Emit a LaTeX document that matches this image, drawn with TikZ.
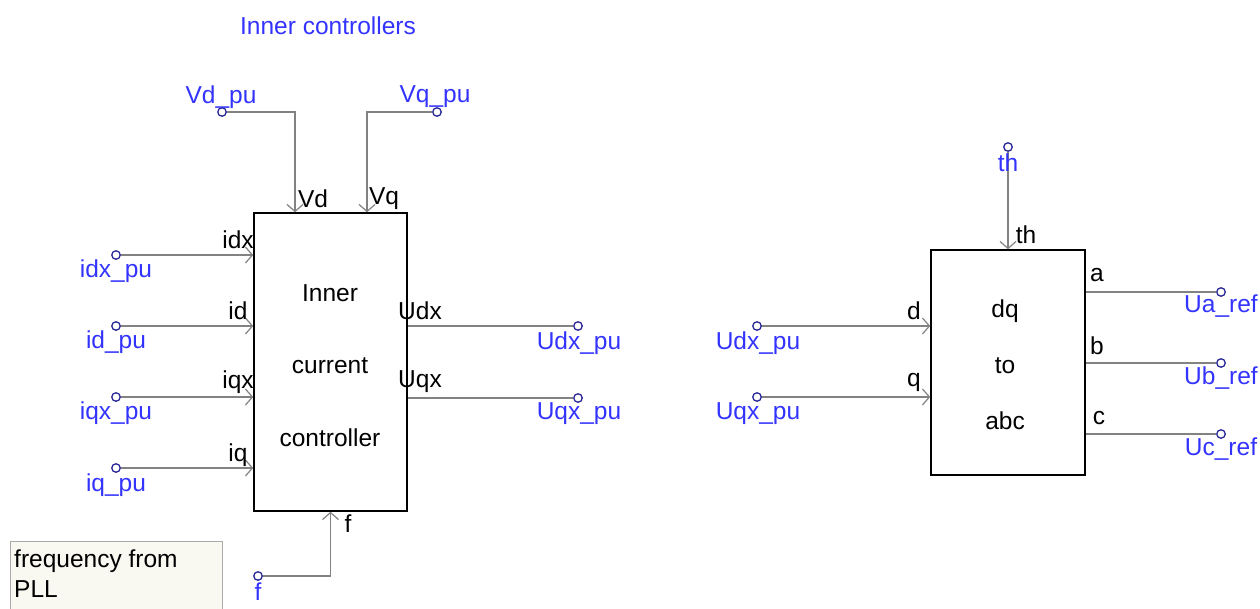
\documentclass[tikz,border=0pt]{standalone}
\usepackage{fontspec}
\setmainfont{Liberation Sans}
\usetikzlibrary{arrows.meta}
\definecolor{termblue}{RGB}{51,51,255}
\definecolor{termdark}{RGB}{40,40,150}
\definecolor{wiregray}{RGB}{130,130,130}
\definecolor{notefill}{RGB}{249,249,241}
\definecolor{noteframe}{RGB}{170,170,170}
\begin{document}
\begin{tikzpicture}[x=1pt,y=-1pt,
  every node/.style={font=\fontsize{24.5}{29}\selectfont, inner sep=0pt},
  blk/.style={draw=black, line width=1.5pt},
  term/.style={draw=termdark, circle, line width=1.3pt, minimum size=8.5pt, inner sep=0pt},
  tlabel/.style={text=termblue},
  plabel/.style={text=black},
  wire/.style={draw=wiregray, line width=1.4pt},
  inwire/.style={wire, -{Straight Barb[length=7pt,width=16pt,line width=1.2pt]}}
]
\useasboundingbox (0,0) rectangle (1260,608);

% title
\node[tlabel] (title) at (328,26) {Inner controllers};

% inner current controller block
\node[blk, minimum width=153pt, minimum height=298pt] (icc) at (330.5,362) {};
\node (t1) at (330,293) {Inner};
\node (t2) at (330,366) {current};
\node (t3) at (330,438) {controller};

% dq to abc block
\node[blk, minimum width=154pt, minimum height=225pt] (dq) at (1008,362.5) {};
\node (s1) at (1005,311) {dq};
\node (s2) at (1005,366) {to};
\node (s3) at (1005,421) {abc};

% terminals - inner controller
\node[term] (vdpu) at (222,112) {};
\node[term] (vqpu) at (437,112) {};
\node[term] (idxpu) at (116,255) {};
\node[term] (idpu) at (116,326) {};
\node[term] (iqxpu) at (116,397) {};
\node[term] (iqpu) at (116,468) {};
\node[term] (udxpu) at (578,326) {};
\node[term] (uqxpu) at (578,398) {};
\node[term] (fpu) at (258,576) {};

% terminals - dq to abc
\node[term] (thpu) at (1008,147) {};
\node[term] (udxpub) at (757,326) {};
\node[term] (uqxpub) at (757,397) {};
\node[term] (uaref) at (1221,292) {};
\node[term] (ubref) at (1221,363) {};
\node[term] (ucref) at (1221,434) {};

% wires
\draw[inwire] (vdpu) -| ([xshift=-35.5pt]icc.north);
\draw[inwire] (vqpu) -| ([xshift=36.5pt]icc.north);
\draw[inwire] (idxpu) -- (idxpu -| icc.west);
\draw[inwire] (idpu) -- (idpu -| icc.west);
\draw[inwire] (iqxpu) -- (iqxpu -| icc.west);
\draw[inwire] (iqpu) -- (iqpu -| icc.west);
\draw[wire] (udxpu -| icc.east) -- (udxpu);
\draw[wire] (uqxpu -| icc.east) -- (uqxpu);
\draw[inwire] (fpu) -| (icc.south);

\draw[inwire] (thpu) -- (dq.north);
\draw[inwire] (udxpub) -- (udxpub -| dq.west);
\draw[inwire] (uqxpub) -- (uqxpub -| dq.west);
\draw[wire] (uaref -| dq.east) -- (uaref);
\draw[wire] (ubref -| dq.east) -- (ubref);
\draw[wire] (ucref -| dq.east) -- (ucref);

% terminal labels
\node[tlabel] (lvd) at (221,97) {Vd\_pu};
\node[tlabel] (lvq) at (435,97) {Vq\_pu};
\node[tlabel] (lidx) at (116,271) {idx\_pu};
\node[tlabel] (lid) at (116,342) {id\_pu};
\node[tlabel] (liqx) at (116,413) {iqx\_pu};
\node[tlabel] (liq) at (116,485) {iq\_pu};
\node[tlabel] (ludx) at (579,343) {Udx\_pu};
\node[tlabel] (luqx) at (579,414) {Uqx\_pu};
\node[tlabel] (lf) at (258,592) {f};
\node[tlabel] (lth) at (1008,163) {th};
\node[tlabel] (ludxb) at (758,343) {Udx\_pu};
\node[tlabel] (luqxb) at (758,414) {Uqx\_pu};
\node[tlabel] (lua) at (1221,306) {Ua\_ref};
\node[tlabel] (lub) at (1221,378) {Ub\_ref};
\node[tlabel] (luc) at (1221,449) {Uc\_ref};

% port labels
\node[plabel] (pvd) at (313,199) {Vd};
\node[plabel] (pvq) at (384,199) {Vq};
\node[plabel] (pidx) at (238,240) {idx};
\node[plabel] (pid) at (238,311) {id};
\node[plabel] (piqx) at (238,382) {iqx};
\node[plabel] (piq) at (238,455) {iq};
\node[plabel] (pudx) at (420,311) {Udx};
\node[plabel] (puqx) at (420,382) {Uqx};
\node[plabel] (pf) at (348,524) {f};
\node[plabel] (pth) at (1026,235) {th};
\node[plabel] (pd) at (914,311) {d};
\node[plabel] (pq) at (914,382) {q};
\node[plabel] (pa) at (1097,275) {a};
\node[plabel] (pb) at (1097,346) {b};
\node[plabel] (pc) at (1099,418) {c};

% note
\draw[draw=noteframe, fill=notefill, line width=1pt] (10,541) rectangle (222,615);
\node[anchor=north west, align=left, font=\fontsize{24.5}{30}\selectfont] (note) at (14,550) {frequency from\\PLL};
\end{tikzpicture}
\end{document}
